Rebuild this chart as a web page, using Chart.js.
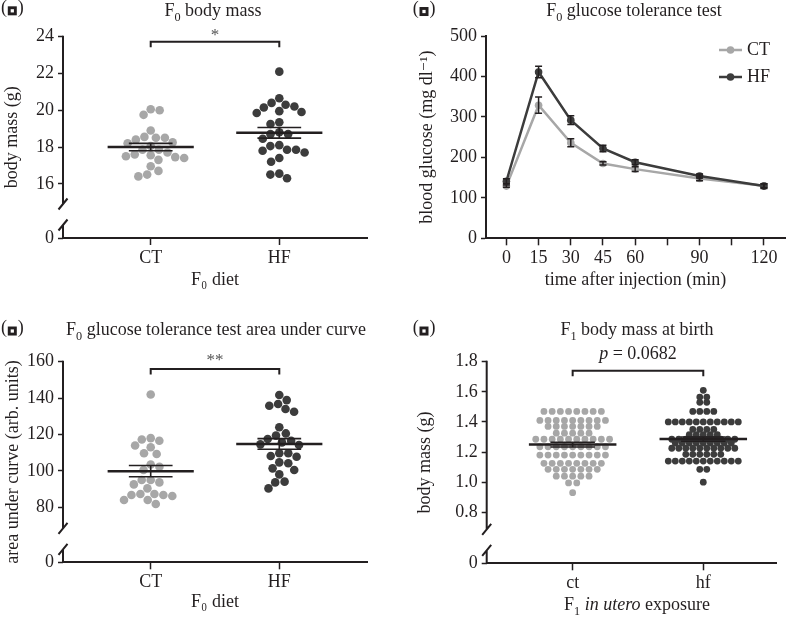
<!DOCTYPE html>
<html>
<head>
<meta charset="utf-8">
<script src="https://cdn.jsdelivr.net/npm/chart.js@4.4.1/dist/chart.umd.min.js"></script>
<style>
  html, body { margin: 0; padding: 0; background: #fff; }
  #wrap { position: relative; width: 789px; height: 621px; }
  canvas { position: absolute; }
</style>
</head>
<body>
<div id="wrap">
  <canvas id="massChart" width="390" height="300" style="left:0;top:0"></canvas>
  <canvas id="gttChart" width="399" height="300" style="left:390px;top:0"></canvas>
  <canvas id="aucChart" width="390" height="321" style="left:0;top:300px"></canvas>
  <canvas id="birthChart" width="399" height="321" style="left:390px;top:300px"></canvas>
</div>
<script>
// ---- data ----
const dietGroups = ['CT', 'HF'];
const exposureGroups = ['ct', 'hf'];

// (a) F0 body mass, g
const massCT = [20.0, 19.75, 20.05, 18.9, 18.5, 18.4, 18.2, 18.5, 18.55, 18.25, 18.05, 17.85,
  17.6, 17.45, 17.5, 17.3, 17.55, 17.4, 17.7, 17.85, 16.7, 16.95, 16.4, 16.5];
const massHF = [22.1, 20.65, 20.3, 20.15, 20.4, 20.2, 19.95, 19.85, 19.9, 19.25, 19.35, 18.8, 18.7,
  18.7, 18.45, 18.1, 17.85, 17.8, 17.7, 17.85, 18.05, 17.4, 17.2, 16.55, 16.5, 16.3];
const massTicks = [0, 16, 18, 20, 22, 24];

// (b) glucose tolerance test, mg/dl
const gttTimes = [0, 15, 30, 45, 60, 90, 120];
const gttTickMarks = [0, 15, 30, 45, 60, 75, 90, 105, 120];
const gttCT = [129, 329, 236, 185, 171, 148, 130];
const gttCTsem = [3, 20, 10, 4, 6, 6, 5];
const gttHF = [141, 411, 292, 222, 188, 154, 129];
const gttHFsem = [6, 14, 11, 8, 6, 5, 6];
const glucoseTicks = [0, 100, 200, 300, 400, 500];

// (c) GTT area under curve
const aucCT = [142, 117.3, 116.6, 118, 113, 114, 109.3, 109.7, 102.3, 103.5, 100.5, 95, 95, 92.6,
  93.7, 90.4, 86.8, 87.3, 87.3, 86.2, 86.8, 84, 84, 81.8];
const aucHF = [141.7, 138.9, 136.8, 135.8, 134, 132.5, 124, 120.6, 119.4, 117.5, 116.6, 115.7, 114.6,
  114.2, 109.7, 109.7, 108.2, 107.8, 104.2, 104.7, 100.5, 101.4, 98.1, 94.1, 93.7, 90.4];
const aucTicks = [0, 80, 100, 120, 140, 160];

const birthCT = [
  1.47, 1.47, 1.47, 1.47, 1.47, 1.47, 1.47, 1.47,
  1.41, 1.41, 1.41, 1.41, 1.41, 1.41, 1.41, 1.41, 1.41,
  1.37, 1.37, 1.37, 1.37, 1.37, 1.37, 1.37,
  1.325, 1.325, 1.325, 1.325, 1.325,
  1.285, 1.285, 1.285, 1.285, 1.285, 1.285, 1.285, 1.285, 1.285, 1.285,
  1.235, 1.235, 1.235, 1.235, 1.235, 1.235, 1.235, 1.235, 1.235,
  1.18, 1.18, 1.18, 1.18, 1.18, 1.18, 1.18, 1.18, 1.18,
  1.125, 1.125, 1.125, 1.125, 1.125, 1.125, 1.125, 1.125,
  1.085, 1.085, 1.085, 1.085, 1.085, 1.085, 1.085,
  1.04, 1.04, 1.04, 1.04, 1.04,
  0.995, 0.995,
  0.93];
const birthHF = [
  1.61,
  1.565, 1.565,
  1.53, 1.53,
  1.47, 1.47, 1.47, 1.47,
  1.40, 1.40, 1.40, 1.40, 1.40, 1.40, 1.40, 1.40, 1.40, 1.40, 1.40,
  1.35, 1.35, 1.35, 1.35,
  1.315, 1.315, 1.315, 1.315, 1.315,
  1.285, 1.285, 1.285, 1.285, 1.285, 1.285, 1.285, 1.285, 1.285, 1.285,
  1.26, 1.26, 1.26, 1.26, 1.26, 1.26, 1.26, 1.26, 1.26,
  1.225, 1.225, 1.225, 1.225, 1.225, 1.225, 1.225, 1.225, 1.225, 1.225,
  1.185, 1.185, 1.185, 1.185, 1.185, 1.185,
  1.14, 1.14, 1.14, 1.14, 1.14, 1.14, 1.14, 1.14, 1.14, 1.14, 1.14,
  1.085, 1.085,
  1.00];
const birthTicks = [0, 0.8, 1.0, 1.2, 1.4, 1.6, 1.8];

// ---- look ----
const ink = '#231f20';
const lightDot = '#a7a7a7';
const darkDot = '#3c3c3c';
const serif = "'Liberation Serif', 'Times New Roman', 'DejaVu Serif', serif";
const axisFont = {family: serif, size: 18};

const avg = a => a.reduce((s, v) => s + v, 0) / a.length;
function semOf(a) {
  const m = avg(a);
  const v = a.reduce((s, x) => s + (x - m) ** 2, 0) / (a.length - 1);
  return Math.sqrt(v / a.length);
}

// text with sub / italic runs, and the boxed panel letter
function drawRuns(ctx, runs, x, base, align, size, color) {
  const items = runs.map(([t, s]) => {
    const fs = s === 'sub' ? size * 0.68 : size;
    const font = (s === 'i' ? 'italic ' : '') + fs + 'px ' + serif;
    ctx.font = font;
    return {t, s, font, w: s === 'box' ? size * 0.6 : ctx.measureText(t).width};
  });
  const total = items.reduce((a, b) => a + b.w, 0);
  let cx = align === 'center' ? x - total / 2 : x;
  ctx.save();
  ctx.fillStyle = color || ink;
  ctx.textAlign = 'left';
  ctx.textBaseline = 'alphabetic';
  items.forEach(it => {
    if (it.s === 'box') {
      const b = size * 0.5;
      const top = base - size * 0.36;
      ctx.fillRect(cx + 0.8, top, b, b);
      ctx.fillStyle = '#fff';
      ctx.fillRect(cx + 0.8 + b * 0.32, top + b * 0.32, b * 0.36, b * 0.36);
      ctx.fillStyle = color || ink;
    } else {
      ctx.font = it.font;
      ctx.fillText(it.t, cx, base + (it.s === 'sub' ? size * 0.27 : 0));
    }
    cx += it.w;
  });
  ctx.restore();
}

function panelText(items) {
  return {
    id: 'panelText',
    afterDraw(chart) {
      items.forEach(it => drawRuns(chart.ctx, it.runs, it.x, it.y, it.align || 'center', it.size || 18, it.color));
    }
  };
}

function axisBreak() {
  return {
    id: 'axisBreak',
    afterDraw(chart) {
      const {ctx, chartArea: {left, top, bottom}} = chart;
      const upper = bottom - 34, lower = bottom - 13;
      ctx.save();
      ctx.strokeStyle = ink;
      ctx.lineWidth = 2;
      ctx.beginPath();
      ctx.moveTo(left, top - 1); ctx.lineTo(left, upper);
      ctx.moveTo(left - 4.5, upper + 5.5); ctx.lineTo(left + 4.5, upper - 5.5);
      ctx.moveTo(left - 4.5, lower + 5.5); ctx.lineTo(left + 4.5, lower - 5.5);
      ctx.moveTo(left, lower); ctx.lineTo(left, bottom);
      ctx.stroke();
      ctx.restore();
    }
  };
}

function meanMarks(groups) {
  return {
    id: 'meanMarks',
    afterDatasetsDraw(chart) {
      const {ctx, scales: {x, y}} = chart;
      ctx.save();
      ctx.strokeStyle = ink;
      groups.forEach((vals, g) => {
        const c = g + 1, m = avg(vals), e = semOf(vals);
        const ym = y.getPixelForValue(m), hi = y.getPixelForValue(m + e), lo = y.getPixelForValue(m - e);
        ctx.lineWidth = 2.5;
        ctx.beginPath();
        ctx.moveTo(x.getPixelForValue(c - 0.335), ym);
        ctx.lineTo(x.getPixelForValue(c + 0.335), ym);
        ctx.stroke();
        ctx.lineWidth = 1.6;
        ctx.beginPath();
        ctx.moveTo(x.getPixelForValue(c - 0.17), hi); ctx.lineTo(x.getPixelForValue(c + 0.17), hi);
        ctx.moveTo(x.getPixelForValue(c - 0.17), lo); ctx.lineTo(x.getPixelForValue(c + 0.17), lo);
        ctx.moveTo(x.getPixelForValue(c), hi); ctx.lineTo(x.getPixelForValue(c), lo);
        ctx.stroke();
      });
      ctx.restore();
    }
  };
}

function sigBracket(b) {
  return {
    id: 'sigBracket',
    afterDraw(chart) {
      const {ctx, scales: {x, y}} = chart;
      const yy = y.getPixelForValue(b.value);
      const x1 = x.getPixelForValue(1), x2 = x.getPixelForValue(2);
      ctx.save();
      ctx.strokeStyle = ink;
      ctx.lineWidth = 2;
      ctx.beginPath();
      ctx.moveTo(x1, yy + 5.5); ctx.lineTo(x1, yy); ctx.lineTo(x2, yy); ctx.lineTo(x2, yy + 5.5);
      ctx.stroke();
      ctx.restore();
      drawRuns(ctx, b.runs, (x1 + x2) / 2, yy - b.rise, 'center', b.size, b.color);
    }
  };
}

function errorBars(sems) {
  return {
    id: 'errorBars',
    afterDatasetsDraw(chart) {
      const {ctx, scales: {x, y}} = chart;
      ctx.save();
      ctx.strokeStyle = ink;
      ctx.lineWidth = 1.5;
      chart.data.datasets.forEach((ds, d) => {
        ds.data.forEach((p, i) => {
          const px = x.getPixelForValue(p.x);
          const hi = y.getPixelForValue(p.y + sems[d][i]), lo = y.getPixelForValue(p.y - sems[d][i]);
          ctx.beginPath();
          ctx.moveTo(px, hi); ctx.lineTo(px, lo);
          ctx.moveTo(px - 3.5, hi); ctx.lineTo(px + 3.5, hi);
          ctx.moveTo(px - 3.5, lo); ctx.lineTo(px + 3.5, lo);
          ctx.stroke();
        });
      });
      ctx.restore();
    }
  };
}

function lineKey() {
  return {
    id: 'lineKey',
    afterDraw(chart) {
      const {ctx, chartArea: {right, top}} = chart;
      chart.data.datasets.forEach((ds, i) => {
        const y = top + 14 + i * 27;
        ctx.save();
        ctx.strokeStyle = ds.borderColor;
        ctx.lineWidth = 2.5;
        ctx.beginPath(); ctx.moveTo(right - 66, y); ctx.lineTo(right - 43, y); ctx.stroke();
        ctx.fillStyle = ds.borderColor;
        ctx.beginPath(); ctx.arc(right - 54.5, y, 3.8, 0, Math.PI * 2); ctx.fill();
        ctx.fillStyle = ink;
        ctx.font = '18px ' + serif;
        ctx.textBaseline = 'middle';
        ctx.fillText(ds.label, right - 38, y + 0.5);
        ctx.restore();
      });
    }
  };
}

// beeswarm spread of the dots, worked out in pixels once the scales exist
function swarmDots(chart, gap) {
  const {x, y} = chart.scales;
  const perUnit = x.getPixelForValue(1) - x.getPixelForValue(0);
  chart.data.datasets.forEach((ds, g) => {
    const placed = [];
    const out = ds.data.map(p => ({x: p.x, y: p.y}));
    const order = out.map((p, i) => i).sort((a, b) => out[b].y - out[a].y);
    order.forEach(i => {
      const py = y.getPixelForValue(out[i].y);
      const near = placed.filter(p => Math.abs(p.y - py) < gap);
      const cands = [0];
      near.forEach(p => {
        const dx = Math.sqrt(gap * gap - (p.y - py) ** 2);
        cands.push(p.x - dx, p.x + dx);
      });
      cands.sort((a, b) => Math.abs(a) - Math.abs(b) || (placed.length % 2 ? b - a : a - b));
      const px = cands.find(c => near.every(p => Math.hypot(p.x - c, p.y - py) >= gap - 0.01));
      placed.push({x: px, y: py});
      out[i].x = g + 1 + px / perUnit;
    });
    ds.data = out;
  });
  chart.update('none');
}

// prism-style rows: equal values sit side by side, centred on the group
function rowDots(chart, gaps) {
  const {x} = chart.scales;
  const perUnit = x.getPixelForValue(1) - x.getPixelForValue(0);
  chart.data.datasets.forEach((ds, g) => {
    const rows = new Map();
    const out = ds.data.map(p => ({x: p.x, y: p.y}));
    out.forEach((p, i) => {
      const k = p.y.toFixed(4);
      if (!rows.has(k)) rows.set(k, []);
      rows.get(k).push(i);
    });
    rows.forEach(idx => idx.forEach((i, k) => {
      out[i].x = g + 1 + (k - (idx.length - 1) / 2) * gaps[g] / perUnit;
    }));
    ds.data = out;
  });
  chart.update('none');
}

function dotChart(id, cfg) {
  const chart = new Chart(document.getElementById(id), {
    type: 'scatter',
    data: {
      datasets: cfg.groups.map((vals, g) => ({
        label: cfg.categories[g],
        data: vals.map(v => ({x: g + 1, y: v})),
        backgroundColor: g === 0 ? lightDot : darkDot,
        borderWidth: 0,
        pointRadius: cfg.radius,
        pointHoverRadius: cfg.radius
      }))
    },
    options: {
      responsive: false,
      animation: false,
      events: [],
      layout: {padding: cfg.padding},
      plugins: {legend: {display: false}, tooltip: {enabled: false}},
      scales: {
        x: {
          type: 'linear',
          min: cfg.xMin,
          max: cfg.xMax,
          afterBuildTicks: s => { s.ticks = cfg.categories.map((c, i) => ({value: i + 1})); },
          afterFit: s => { s.height = cfg.xHeight; },
          ticks: {callback: (v, i) => cfg.categories[i], color: ink, font: axisFont, padding: 2, maxRotation: 0, autoSkip: false},
          grid: {drawOnChartArea: false, tickLength: 7, tickColor: ink, tickWidth: 1.5},
          border: {color: ink, width: 2},
          title: {display: !!cfg.xTitle, text: cfg.xTitle || '', color: ink, font: axisFont, padding: {top: 0, bottom: cfg.xTitlePad}}
        },
        y: {
          type: 'linear',
          min: cfg.floor,
          max: cfg.max,
          afterBuildTicks: s => { s.ticks = cfg.ticks.map(v => ({value: v === 0 ? cfg.floor : v})); },
          afterFit: s => { s.width = cfg.yWidth; },
          ticks: {callback: (v, i) => cfg.tickText(cfg.ticks[i]), color: ink, font: axisFont, padding: 4},
          grid: {drawOnChartArea: false, tickLength: 5, tickColor: ink, tickWidth: 1.5},
          border: {display: false},
          title: {display: true, text: cfg.yTitle, color: ink, font: axisFont, padding: {top: cfg.yTitlePad, bottom: 0}}
        }
      }
    },
    plugins: [meanMarks(cfg.groups), axisBreak(), sigBracket(cfg.bracket), panelText(cfg.text)]
  });
  if (cfg.rows) rowDots(chart, cfg.rows);
  else swarmDots(chart, cfg.gap);
  return chart;
}

const panelMark = [['(', ''], ['', 'box'], [')', '']];

// (a)
dotChart('massChart', {
  groups: [massCT, massHF],
  categories: dietGroups,
  ticks: massTicks,
  tickText: v => String(v),
  floor: 13.05, max: 24,
  xMin: 0.318, xMax: 2.682,
  padding: {top: 36.7, left: 0, right: 23, bottom: 0},
  yWidth: 63, xHeight: 62,
  yTitle: 'body mass (g)', yTitlePad: 1.2,
  xTitle: 'F\u2080 diet', xTitlePad: 9.2,
  radius: 4.3, gap: 9,
  bracket: {value: 23.73, runs: [['*', '']], rise: 2, size: 17, color: '#555'},
  text: [
    {runs: panelMark, x: 1, y: 12.8, align: 'left'},
    {runs: [['F', ''], ['0', 'sub'], [' body mass', '']], x: 213, y: 16}
  ]
});

// (b)
new Chart(document.getElementById('gttChart'), {
  type: 'line',
  data: {
    datasets: [
      {label: 'CT', data: gttTimes.map((t, i) => ({x: t, y: gttCT[i]})), borderColor: lightDot, backgroundColor: lightDot,
        borderWidth: 2.5, pointRadius: 3.8, pointBorderWidth: 0, tension: 0, order: 1},
      {label: 'HF', data: gttTimes.map((t, i) => ({x: t, y: gttHF[i]})), borderColor: darkDot, backgroundColor: darkDot,
        borderWidth: 2.5, pointRadius: 3.8, pointBorderWidth: 0, tension: 0, order: 0}
    ]
  },
  options: {
    responsive: false,
    animation: false,
    events: [],
    layout: {padding: {top: 36, left: 0, right: 1, bottom: 0}},
    plugins: {legend: {display: false}, tooltip: {enabled: false}},
    scales: {
      x: {
        type: 'linear',
        min: -9.5,
        max: 129.8,
        afterBuildTicks: s => { s.ticks = gttTickMarks.map(v => ({value: v})); },
        afterFit: s => { s.height = 61.7; },
        ticks: {callback: v => gttTimes.includes(v) ? String(v) : '', color: ink, font: axisFont, padding: 2, maxRotation: 0, autoSkip: false},
        grid: {drawOnChartArea: false, tickLength: 7, tickColor: ink, tickWidth: 1.5},
        border: {color: ink, width: 2},
        title: {display: true, text: 'time after injection (min)', color: ink, font: axisFont, padding: {top: 0, bottom: 9.2}}
      },
      y: {
        min: 0,
        max: 500,
        afterBuildTicks: s => { s.ticks = glucoseTicks.map(v => ({value: v})); },
        afterFit: s => { s.width = 96; },
        ticks: {color: ink, font: axisFont, padding: 4},
        grid: {drawOnChartArea: false, tickLength: 5, tickColor: ink, tickWidth: 1.5},
        border: {color: ink, width: 2},
        title: {display: true, text: 'blood glucose (mg dl\u207B\u00B9)', color: ink, font: axisFont, padding: {top: 26.7, bottom: 0}}
      }
    }
  },
  plugins: [errorBars([gttCTsem, gttHFsem]), lineKey(), panelText([
    {runs: panelMark, x: 22.7, y: 13.5, align: 'left'},
    {runs: [['F', ''], ['0', 'sub'], [' glucose tolerance test', '']], x: 244, y: 16}
  ])]
});

// (c)
dotChart('aucChart', {
  groups: [aucCT, aucHF],
  categories: dietGroups,
  ticks: aucTicks,
  tickText: v => String(v),
  floor: 49.8, max: 160,
  xMin: 0.318, xMax: 2.682,
  padding: {top: 61.7, left: 0, right: 23, bottom: 0},
  yWidth: 63, xHeight: 58.7,
  yTitle: 'area under curve (arb. units)', yTitlePad: 2.2,
  xTitle: 'F\u2080 diet', xTitlePad: 8.2,
  radius: 4.3, gap: 9,
  bracket: {value: 156, runs: [['**', '']], rise: 4, size: 17, color: '#555'},
  text: [
    {runs: panelMark, x: 1, y: 33, align: 'left'},
    {runs: [['F', ''], ['0', 'sub'], [' glucose tolerance test area under curve', '']], x: 216, y: 35}
  ]
});

// (d)
dotChart('birthChart', {
  groups: [birthCT, birthHF],
  categories: exposureGroups,
  ticks: birthTicks,
  tickText: v => v === 0 ? '0' : v.toFixed(1),
  floor: 0.461, max: 1.8,
  xMin: 0.342, xMax: 2.562,
  padding: {top: 61.7, left: 0, right: 12.3, bottom: 0},
  yWidth: 96.7, xHeight: 57.7,
  yTitle: 'body mass (g)', yTitlePad: 24.2,
  xTitle: '', xTitlePad: 0,
  radius: 3.4, rows: [8.2, 7],
  bracket: {value: 1.74, runs: [['p', 'i'], [' = 0.0682', '']], rise: 11.4, size: 18},
  text: [
    {runs: panelMark, x: 22.7, y: 33, align: 'left'},
    {runs: [['F', ''], ['1', 'sub'], [' body mass at birth', '']], x: 247, y: 35},
    {runs: [['F', ''], ['1', 'sub'], [' ', ''], ['in utero', 'i'], [' exposure', '']], x: 247, y: 310}
  ]
});
</script>
</body>
</html>
